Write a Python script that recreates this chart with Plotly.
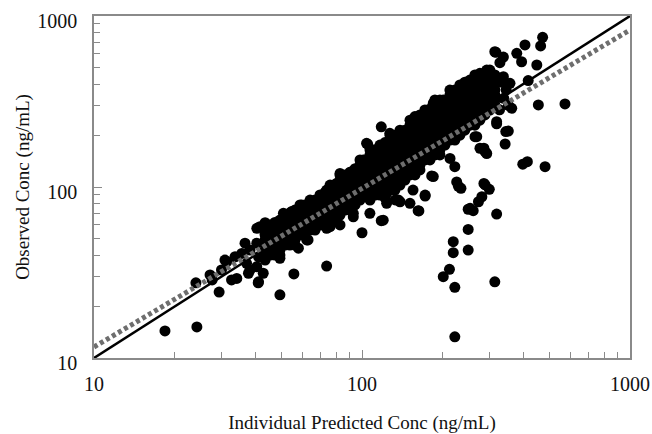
import plotly.graph_objects as go

# ---- data (ng/mL) ----
# dense core of the cloud
core_pred = (
    [43.5] * 4 + [45.4] * 4 + [47.3] * 4 + [49.4] * 4 + [51.6] * 4 + [53.8] * 4 + [56.2] * 4 + [58.7] * 4
    + [61.2] * 3 + [64.0] * 4 + [66.8] * 3 + [69.7] * 4 + [72.8] * 4 + [76.0] * 4 + [79.3] * 4 + [82.8] * 5
    + [86.4] * 4 + [90.2] * 5 + [94.2] * 5 + [98.3] * 5 + [102.6] * 5 + [107.1] * 6 + [111.8] * 5 + [116.7] * 6
    + [121.8] * 6 + [127.2] * 6 + [132.7] * 6 + [138.6] * 6 + [144.6] * 6 + [151.0] * 6 + [157.6] * 7 + [164.5] * 6
    + [171.7] * 6 + [179.3] * 6 + [187.1] * 6 + [195.3] * 6 + [203.9] * 5 + [212.8] * 6 + [222.1] * 5 + [231.9] * 6
    + [242.0] * 6 + [252.7] * 5 + [263.8] * 6 + [275.3] * 5 + [287.4] * 5 + [300.0] * 5 + [313.2] * 4
)
core_obs = [
    53.5, 49.0, 42.8, 37.4,
    59.9, 52.4, 45.8, 40.0,
    62.0, 56.0, 49.0, 42.8,
    57.5, 52.4, 45.8, 40.0,
    68.6, 59.9, 52.4, 45.8,
    70.5, 64.1, 56.0, 49.0,
    66.0, 59.9, 52.4, 45.8,
    78.5, 68.6, 59.9, 52.4,
    71.0, 64.1, 56.0,
    83.9, 73.3, 64.1, 56.0,
    76.0, 68.6, 59.9,
    89.8, 78.5, 68.6, 59.9,
    93.0, 83.9, 73.3, 64.1,
    102.7, 89.8, 78.5, 68.6,
    93.5, 83.9, 73.3, 64.1,
    117.6, 102.7, 89.8, 78.5, 68.6,
    104.0, 96.0, 83.9, 73.3,
    122.0, 109.9, 96.0, 83.9, 73.3,
    128.0, 117.6, 102.7, 89.8, 78.5,
    144.0, 125.8, 109.9, 96.0, 83.9,
    141.0, 134.6, 117.6, 102.7, 89.8,
    165.0, 144.0, 125.8, 109.9, 96.0, 83.9,
    160.0, 134.6, 117.6, 102.7, 89.8,
    176.0, 154.0, 134.6, 117.6, 102.7, 89.8,
    182.0, 165.0, 144.0, 125.8, 109.9, 96.0,
    201.0, 176.0, 154.0, 134.6, 117.6, 102.7,
    176.0, 165.0, 144.0, 125.8, 109.9, 96.0,
    215.0, 188.0, 165.0, 144.0, 125.8, 109.9,
    212.0, 201.0, 176.0, 154.0, 134.6, 117.6,
    246.0, 215.0, 188.0, 165.0, 144.0, 125.8,
    258.0, 230.0, 201.0, 176.0, 154.0, 134.6, 117.6,
    236.0, 215.0, 188.0, 165.0, 144.0, 125.8,
    282.0, 246.0, 215.0, 188.0, 165.0, 144.0,
    286.0, 264.0, 230.0, 201.0, 176.0, 154.0,
    323.0, 282.0, 246.0, 215.0, 188.0, 165.0,
    296.0, 264.0, 230.0, 201.0, 176.0, 154.0,
    300.0, 282.0, 246.0, 215.0, 188.0,
    369.0, 323.0, 282.0, 246.0, 215.0, 188.0,
    330.0, 302.0, 264.0, 230.0, 201.0,
    395.0, 345.0, 302.0, 264.0, 230.0, 201.0,
    410.0, 369.0, 323.0, 282.0, 246.0, 215.0,
    380.0, 345.0, 302.0, 264.0, 230.0,
    452.0, 395.0, 345.0, 302.0, 264.0, 230.0,
    400.0, 369.0, 323.0, 282.0, 246.0,
    440.0, 395.0, 345.0, 302.0, 264.0,
    483.0, 422.0, 369.0, 323.0, 282.0,
    452.0, 395.0, 345.0, 302.0,
]

# more points filling the same core between the rows above
fill_pred = (
    [43.5] * 3 + [45.4] * 3 + [47.3] * 4 + [49.4] * 4 + [51.6] * 3 + [53.8] * 4 + [56.2] * 4 + [58.7] * 3
    + [61.2] * 4 + [64.0] * 3 + [66.8] * 4 + [69.7] * 3 + [72.8] * 3 + [76.0] * 3 + [79.3] * 4 + [82.8] * 4
    + [86.4] * 4 + [90.2] * 4 + [94.2] * 4 + [98.3] * 4 + [102.6] * 4 + [107.1] * 5 + [111.8] * 5 + [116.7] * 5
    + [121.8] * 5 + [127.2] * 6 + [132.7] * 6 + [138.6] * 6 + [144.6] * 6 + [151.0] * 6 + [157.6] * 6 + [164.5] * 6
    + [171.7] * 5 + [179.3] * 6 + [187.1] * 6 + [195.3] * 6 + [203.9] * 5 + [212.8] * 5 + [222.1] * 6 + [231.9] * 5
    + [242.0] * 5 + [252.7] * 5 + [263.8] * 5 + [275.3] * 5 + [287.4] * 4 + [300.0] * 4 + [313.2] * 3
)
fill_obs = [
    52.4, 45.8, 40.0,
    56.0, 49.0, 42.8,
    59.9, 52.4, 45.8, 40.0,
    64.1, 56.0, 49.0, 42.8,
    64.1, 56.0, 49.0,
    68.6, 59.9, 52.4, 45.8,
    73.3, 64.1, 56.0, 49.0,
    73.3, 64.1, 56.0,
    78.5, 68.6, 59.9, 52.4,
    78.5, 68.6, 59.9,
    83.9, 73.3, 64.1, 56.0,
    83.9, 73.3, 64.1,
    89.8, 78.5, 68.6,
    96.0, 83.9, 73.3,
    102.7, 89.8, 78.5, 68.6,
    109.9, 96.0, 83.9, 73.3,
    117.6, 102.7, 89.8, 78.5,
    117.6, 102.7, 89.8, 78.5,
    125.8, 109.9, 96.0, 83.9,
    134.6, 117.6, 102.7, 89.8,
    144.0, 125.8, 109.9, 96.0,
    154.0, 134.6, 117.6, 102.7, 89.8,
    165.0, 144.0, 125.8, 109.9, 96.0,
    165.0, 144.0, 125.8, 109.9, 96.0,
    176.0, 154.0, 134.6, 117.6, 102.7,
    188.0, 165.0, 144.0, 125.8, 109.9, 96.0,
    201.0, 176.0, 154.0, 134.6, 117.6, 102.7,
    201.0, 176.0, 154.0, 134.6, 117.6, 102.7,
    215.0, 188.0, 165.0, 144.0, 125.8, 109.9,
    230.0, 201.0, 176.0, 154.0, 134.6, 117.6,
    246.0, 215.0, 188.0, 165.0, 144.0, 125.8,
    264.0, 230.0, 201.0, 176.0, 154.0, 134.6,
    264.0, 230.0, 201.0, 176.0, 154.0,
    282.0, 246.0, 215.0, 188.0, 165.0, 144.0,
    302.0, 264.0, 230.0, 201.0, 176.0, 154.0,
    323.0, 282.0, 246.0, 215.0, 188.0, 165.0,
    302.0, 264.0, 230.0, 201.0, 176.0,
    345.0, 302.0, 264.0, 230.0, 201.0,
    369.0, 323.0, 282.0, 246.0, 215.0, 188.0,
    369.0, 323.0, 282.0, 246.0, 215.0,
    395.0, 345.0, 302.0, 264.0, 230.0,
    422.0, 369.0, 323.0, 282.0, 246.0,
    422.0, 369.0, 323.0, 282.0, 246.0,
    452.0, 395.0, 345.0, 302.0, 264.0,
    422.0, 369.0, 323.0, 282.0,
    452.0, 395.0, 345.0, 302.0,
    422.0, 369.0, 323.0,
]

# scattered points at the lower-left end and edges of the band
edge_pred = [
    18.4, 24.2, 24.0, 29.3, 27.6, 27.1, 29.9, 31.3, 33.6, 35.6, 36.6, 38.2, 38.2, 37.1,
    40.5, 40.5, 41.1, 34.1, 32.6, 37.7, 40.5, 41.1, 30.8, 41.6, 43.5, 42.8, 41.0,
    49.4, 55.7, 73.8, 100.0, 118.0, 49.4, 50.9, 59.6, 54.7, 69.8, 73.8, 80.3, 82.8,
    92.8, 101.0, 108.6, 116.6, 57.9, 62.9, 73.8, 82.8, 92.8, 107.0, 123.6, 136.6,
    151.0, 163.0, 172.0, 62.2, 76.0, 92.8, 45.3, 91.5, 105.0, 118.0, 127.0, 157.6,
    104.0, 123.6, 120.0, 122.0, 155.0, 133.0, 138.6, 162.0, 182.0, 184.5,
]
edge_obs = [
    14.4, 15.2, 27.5, 24.3, 28.6, 30.6, 32.7, 36.6, 39.1, 40.9, 46.9, 42.8, 32.7, 35.8,
    46.9, 34.2, 39.1, 29.2, 28.6, 31.3, 57.3, 27.9, 37.4, 58.6, 61.8, 31.3, 27.5,
    23.4, 31.0, 34.5, 54.0, 63.5, 38.3, 70.2, 78.5, 71.9, 88.0, 96.0, 105.0, 120.0,
    117.0, 144.0, 153.9, 160.0, 43.9, 49.0, 57.3, 60.0, 66.9, 70.2, 80.3, 84.0,
    80.3, 72.4, 89.7, 49.0, 58.6, 70.2, 53.6, 123.0, 178.0, 225.0, 206.0, 236.0,
    180.0, 91.8, 64.0, 86.0, 96.0, 84.0, 82.0, 72.7, 116.0, 115.0,
]

# upper end of the cloud
upper_pred = [
    184.5, 201.0, 246.0, 275.5, 292.0, 313.0, 337.0, 378.0, 472.0, 464.0, 405.6, 394.0,
    316.0, 327.0, 449.0, 417.0, 356.6, 337.0, 455.0, 572.0, 362.0, 351.5, 342.0, 318.0,
    264.0, 268.0, 288.0, 275.5, 292.0, 285.0, 213.0, 222.0, 482.0, 398.0, 414.0, 344.0,
    318.0, 190.0, 169.0, 332.0, 345.0, 338.0, 352.0, 326.0,
]
upper_obs = [
    309.0, 323.0, 361.0, 462.0, 483.0, 618.0, 575.0, 605.0, 750.0, 668.0, 677.0, 540.0,
    613.0, 533.0, 517.0, 419.0, 404.0, 442.0, 302.0, 306.0, 288.6, 212.5, 178.4, 241.0,
    197.0, 197.0, 160.9, 168.5, 157.0, 168.5, 147.0, 131.5, 131.5, 136.0, 140.6, 211.0,
    234.0, 168.5, 144.0, 410.0, 370.0, 330.0, 300.0, 283.0,
]

# under-predicted tail (observed well below predicted)
low_pred = [
    222.0, 222.0, 201.0, 212.0, 313.0, 219.0, 219.0, 249.0, 249.0, 318.0, 249.0, 260.0,
    272.0, 280.0, 285.0, 298.5, 225.6, 234.0, 172.0, 253.0, 288.0, 229.0,
]
low_obs = [
    13.3, 25.9, 29.9, 33.0, 27.9, 41.3, 47.9, 42.8, 56.5, 69.5, 74.1, 72.7,
    82.0, 87.7, 105.0, 96.9, 107.0, 98.3, 88.6, 75.0, 103.0, 101.0,
]

# reference lines
identity_x = [10, 1000]
identity_y = [10, 1000]
regress_x = [10, 1000]
regress_y = [11.6, 828]

major_ticks = [10, 100, 1000]
major_labels = ["10", "100", "1000"]
minor_ticks = [20, 30, 40, 50, 60, 70, 80, 90, 200, 300, 400, 500, 600, 700, 800, 900]

pred = core_pred + fill_pred + edge_pred + upper_pred + low_pred
obs = core_obs + fill_obs + edge_obs + upper_obs + low_obs

FONT = "Liberation Serif"
AXC = "#8a8a8a"

fig = go.Figure()
fig.add_trace(go.Scatter(
    x=pred, y=obs, mode="markers",
    marker=dict(color="black", size=11, line=dict(width=0)),
    showlegend=False, hoverinfo="x+y",
))
fig.add_trace(go.Scatter(
    x=identity_x, y=identity_y, mode="lines",
    line=dict(color="black", width=2.5), showlegend=False,
))
fig.add_trace(go.Scatter(
    x=regress_x, y=regress_y, mode="lines",
    line=dict(color="#6e6e6e", width=5, dash="4px,3px"), showlegend=False,
))

axis_common = dict(
    type="log", range=[1, 3],
    tickmode="array", tickvals=major_ticks, ticktext=major_labels,
    ticks="inside", ticklen=8, tickwidth=1, tickcolor=AXC,
    minor=dict(tickmode="array", tickvals=minor_ticks, ticks="inside",
               ticklen=6, tickwidth=1, tickcolor=AXC, showgrid=False),
    showline=True, linecolor=AXC, linewidth=1.5, mirror=True,
    showgrid=False, zeroline=False,
    tickfont=dict(family=FONT, size=20, color="#111111"),
)

fig.update_layout(
    width=652, height=434,
    margin=dict(l=94, r=22, t=16, b=76, autoexpand=False),
    paper_bgcolor="white", plot_bgcolor="white",
    xaxis=dict(**axis_common,
               title=dict(text="Individual Predicted Conc (ng/mL)",
                          font=dict(family=FONT, size=19, color="#111111"), standoff=27),
               ticklabelstandoff=7),
    yaxis=dict(**axis_common,
               title=dict(text="Observed Conc (ng/mL)",
                          font=dict(family=FONT, size=19, color="#111111"), standoff=3),
               ticklabelstandoff=11, ticklabelshift=5),
)

fig.write_html("out.html")
